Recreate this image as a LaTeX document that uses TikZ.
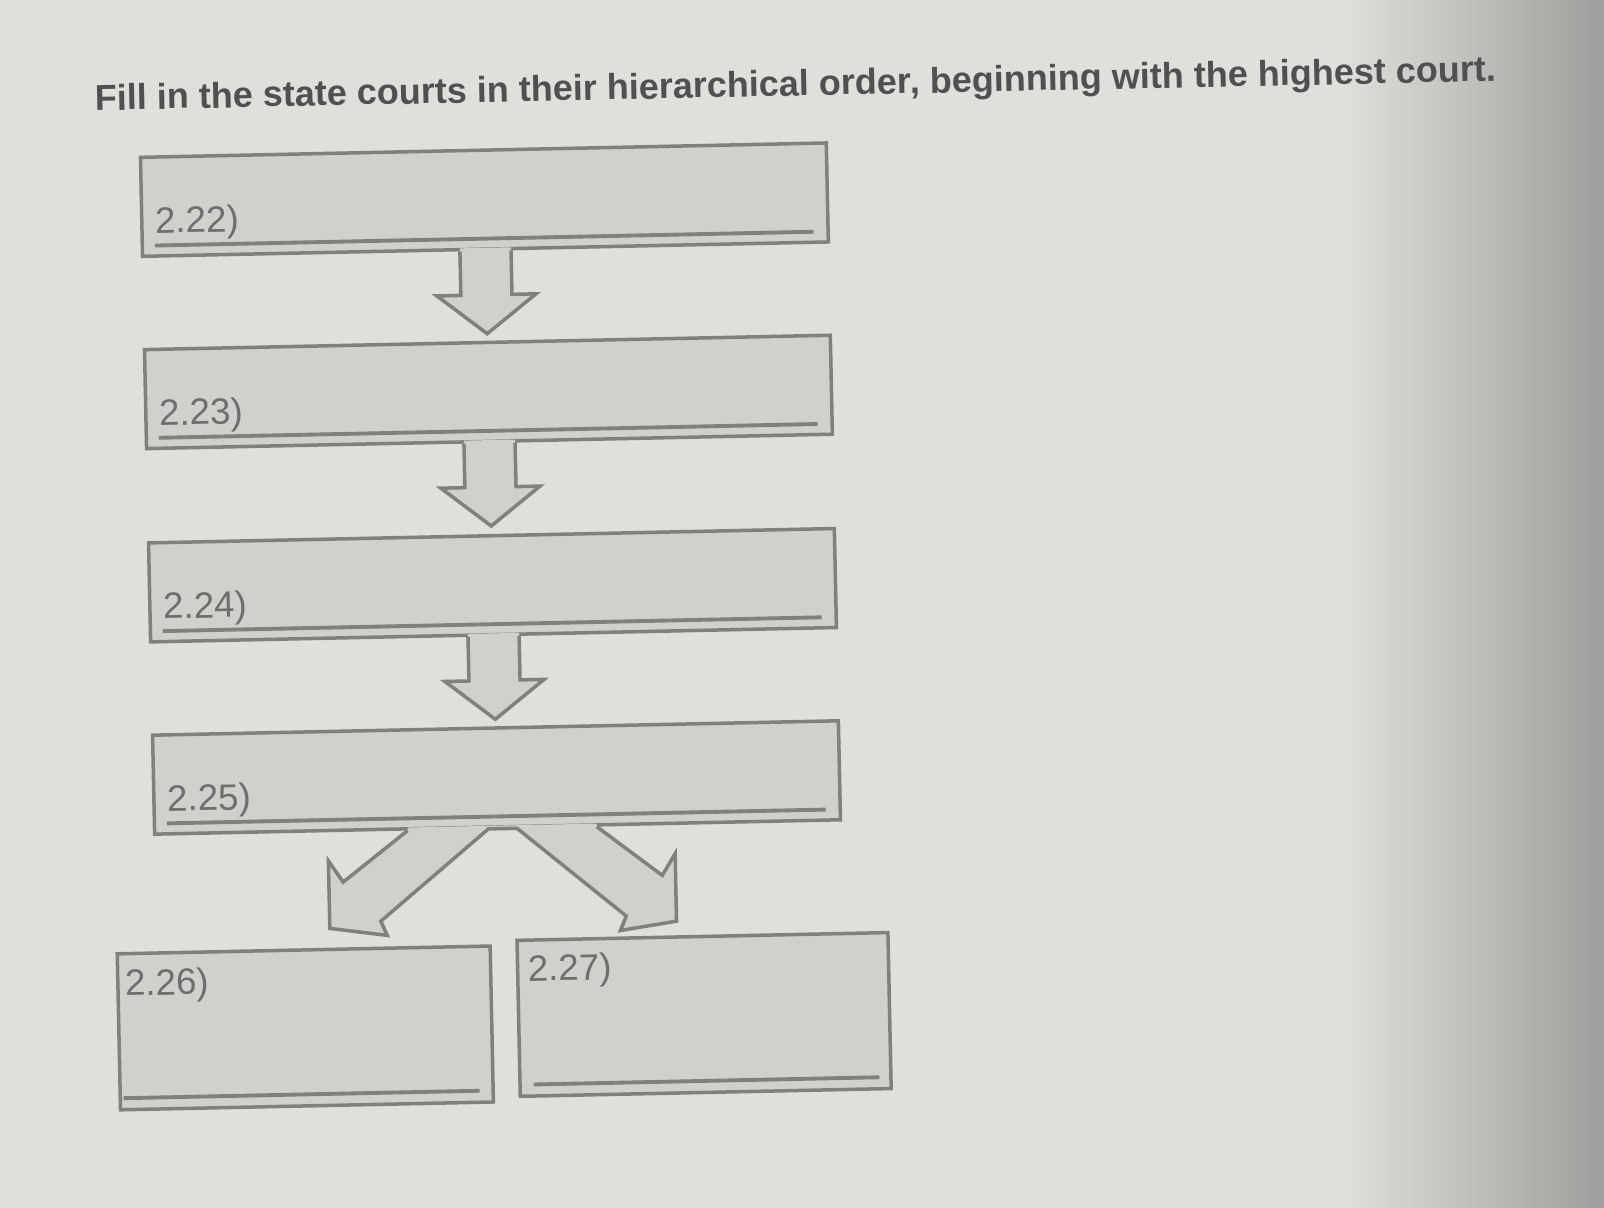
\documentclass[tikz,border=0pt]{standalone}
\usepackage{fontspec}
\setmainfont{Liberation Sans}
\usetikzlibrary{calc}

\definecolor{paper}{RGB}{223,223,219}
\definecolor{paperdark}{RGB}{156,156,154}
\definecolor{boxfill}{RGB}{208,208,204}
\definecolor{boxline}{RGB}{128,128,125}
\definecolor{lbltext}{RGB}{110,110,110}
\definecolor{titletext}{RGB}{80,80,80}

\begin{document}
\begin{tikzpicture}[x=1.023cm, y=1.023cm,
    court/.style={draw=boxline, fill=boxfill, line width=1pt, rectangle,
                  inner sep=0pt, anchor=north west},
    wide/.style={court, minimum width=6.86cm, minimum height=0.99cm},
    low/.style={court, minimum width=3.73cm, minimum height=1.56cm},
    lbl/.style={text=lbltext, inner sep=0pt, anchor=base west,
                font=\fontsize{10.45}{12}\selectfont},
    uline/.style={draw=boxline, line width=1.1pt},
    outline/.style={draw=boxline, line width=1pt, line join=miter},
]

    %% Sheet of paper
    \useasboundingbox (0,0) rectangle (15.68,-11.80);
    \fill[paper] (-0.1,0.1) rectangle (15.78,-11.90);
    \shade[left color=paper, right color=paperdark] (13.1,0.1) rectangle (15.78,-11.90);

    \begin{scope}[transform canvas={rotate around={1.2:(4.8,-6)}}]

    % Question
    \node[text=titletext, inner sep=0pt, anchor=base west,
          font=\fontsize{10.25}{12}\selectfont\bfseries] (title) at (1.03,-1.0)
        {Fill in the state courts in their hierarchical order, beginning with the highest court.};

    % Courts, highest first
    \node[wide] (b1) at (1.45,-1.45) {};
    \node[wide] (b2) at (1.45,-3.33) {};
    \node[wide] (b3) at (1.45,-5.22) {};
    \node[wide] (b4) at (1.45,-7.10) {};

    % Two lowest courts
    \node[low] (b5) at (1.06,-9.23) {};
    \node[low, minimum width=3.71cm] (b6) at (4.97,-9.18) {};

    % Block arrows from one court to the next
    \foreach \a in {b1,b2,b3}{
        \begin{scope}[shift={(\a.south)}]
            \fill[boxfill] (-0.25,0.03) -- (-0.25,-0.43) -- (-0.485,-0.43) -- (0,-0.81)
                -- (0.485,-0.43) -- (0.25,-0.43) -- (0.25,0.03) -- cycle;
            \draw[outline] (-0.25,0) -- (-0.25,-0.43) -- (-0.485,-0.43) -- (0,-0.81)
                -- (0.485,-0.43) -- (0.25,-0.43) -- (0.25,0);
        \end{scope}
    }

    % Split arrow into the two lowest courts
    \coordinate (fk) at ($(b4.south)+(0.05,0)$);
    \begin{scope}[shift={(fk)}]
        \fill[boxfill] (-0.93,0.03) -- (-0.93,0) -- (-1.57,-0.49) -- (-1.71,-0.28)
            -- (-1.71,-0.94) -- (-1.15,-1.02) -- (-1.21,-0.88) -- (-0.14,0)
            -- (0.14,0) -- (1.19,-0.88) -- (1.13,-1.02) -- (1.68,-0.94)
            -- (1.68,-0.28) -- (1.55,-0.49) -- (0.92,0) -- (0.92,0.03) -- cycle;
        \draw[outline] (-0.93,0) -- (-1.57,-0.49) -- (-1.71,-0.28)
            -- (-1.71,-0.94) -- (-1.15,-1.02) -- (-1.21,-0.88) -- (-0.14,0)
            -- (0.14,0) -- (1.19,-0.88) -- (1.13,-1.02) -- (1.68,-0.94)
            -- (1.68,-0.28) -- (1.55,-0.49) -- (0.92,0);
    \end{scope}

    % Numbers and answer lines
    \foreach \b/\n in {b1/22,b2/23,b3/24,b4/25}{
        \node[lbl] (l\n) at ($(\b.south west)+(0.14,0.24)$) {2.\n)};
        \draw[uline] ($(\b.south west)+(0.14,0.12)$) -- ($(\b.south east)+(-0.16,0.12)$);
    }
    \node[lbl] (l26) at ($(b5.north west)+(0.08,-0.43)$) {2.26)};
    \draw[uline] ($(b5.south west)+(0.05,0.13)$) -- ($(b5.south east)+(-0.15,0.13)$);
    \node[lbl] (l27) at ($(b6.north west)+(0.11,-0.42)$) {2.27)};
    \draw[uline] ($(b6.south west)+(0.15,0.13)$) -- ($(b6.south east)+(-0.13,0.13)$);

    \end{scope}

\end{tikzpicture}
\end{document}
